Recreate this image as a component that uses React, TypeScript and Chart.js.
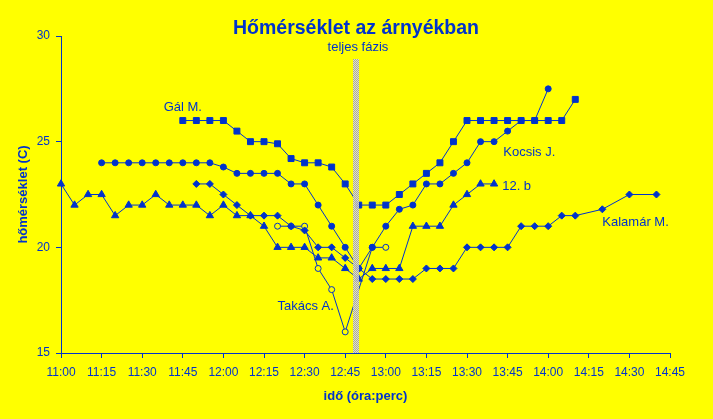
import React, { useEffect, useRef } from 'react';
import { Chart, registerables } from 'chart.js';

Chart.register(...registerables);

// ---- data ----
const TIME_LABELS = [
  '11:00', '11:05', '11:10', '11:15', '11:20', '11:25', '11:30', '11:35', '11:40', '11:45', '11:50', '11:55',
  '12:00', '12:05', '12:10', '12:15', '12:20', '12:25', '12:30', '12:35', '12:40', '12:45', '12:50', '12:55',
  '13:00', '13:05', '13:10', '13:15', '13:20', '13:25', '13:30', '13:35', '13:40', '13:45', '13:50', '13:55',
  '14:00', '14:05', '14:10', '14:15', '14:20', '14:25', '14:30', '14:35', '14:40', '14:45',
];

const X_TICKS = ['11:00', '11:15', '11:30', '11:45', '12:00', '12:15', '12:30', '12:45', '13:00', '13:15', '13:30', '13:45', '14:00', '14:15', '14:30', '14:45'];
const Y_TICKS = [15, 20, 25, 30];

const SERIES_12B = [
  23, 22, 22.5, 22.5, 21.5, 22, 22, 22.5, 22, 22, 22, 21.5,
  22, 21.5, 21.5, 21, 20, 20, 20, 19.5, 19.5, 19, 18.5, 19,
  19, 19, 21, 21, 21, 22, 22.5, 23, 23, null, null, null,
  null, null, null, null, null, null, null, null, null, null,
];

const SERIES_KOCSIS = [
  null, null, null, 24, 24, 24, 24, 24, 24, 24, 24, 24,
  23.8, 23.5, 23.5, 23.5, 23.5, 23, 23, 22, 21, 20, 19, 20,
  21, 21.8, 22, 23, 23, 23.5, 24, 25, 25, 25.5, 26, 26,
  27.5, null, null, null, null, null, null, null, null, null,
];

const SERIES_GAL = [
  null, null, null, null, null, null, null, null, null, 26, 26, 26,
  26, 25.5, 25, 25, 24.9, 24.2, 24, 24, 23.8, 23, 22, 22,
  22, 22.5, 23, 23.5, 24, 25, 26, 26, 26, 26, 26, 26,
  26, 26, 27, null, null, null, null, null, null, null,
];

const SERIES_KALAMAR = [
  null, null, null, null, null, null, null, null, null, null, 23, 23,
  22.5, 22, 21.5, 21.5, 21.5, 21, 20.8, 20, 20, 19.5, 19, 18.5,
  18.5, 18.5, 18.5, 19, 19, 19, 20, 20, 20, 20, 21, 21,
  21, 21.5, 21.5, null, 21.8, null, 22.5, null, 22.5, null,
];

const SERIES_TAKACS = [
  null, null, null, null, null, null, null, null, null, null, null, null,
  null, null, null, null, 21, 21, 21, 19, 18, 16, null, 20,
  20, null, null, null, null, null, null, null, null, null, null, null,
  null, null, null, null, null, null, null, null, null, null,
];

const SERIES_NAMES = ['12. b', 'Kocsis J.', 'Gál M.', 'Kalamár M.', 'Takács A.'];

// series labels written on the chart (time, value, alignment)
const NOTE_TEXTS = ['Gál M.', 'Kocsis J.', '12. b', 'Kalamár M.', 'Takács A.', 'teljes fázis'];
const NOTE_TIMES = ['11:45', '13:53', '13:43', '14:20', '12:20', '12:49.7'];
const NOTE_VALUES = [26.6, 24.5, 22.9, 21.2, 17.2, 29.45];
const NOTE_ALIGN = ['center', 'center', 'left', 'left', 'left', 'center'];

// totality band
const BAND_START = '12:48';
const BAND_END = '12:50';
const BAND_TOP = 28.9;

const TITLE = 'Hőmérséklet az árnyékban';
const X_TITLE = 'idő (óra:perc)';
const Y_TITLE = 'hőmérséklet (C)';

// ---- styling ----
const BLUE = '#0033cc';
const YELLOW = '#ffff00';
const FONT = "'Liberation Sans', Arial, Helvetica, sans-serif";

function toMin(t: string): number {
  const [h, m] = t.split(':').map(Number);
  return (h - 11) * 60 + m;
}

function points(values: (number | null)[]) {
  return TIME_LABELS.map((t, i) => ({ x: toMin(t), y: values[i] })).filter((p) => p.y !== null) as { x: number; y: number }[];
}

function makePattern(ctx: CanvasRenderingContext2D) {
  const c = document.createElement('canvas');
  c.width = 2;
  c.height = 2;
  const g = c.getContext('2d')!;
  g.fillStyle = 'rgba(228,228,218,0.85)';
  g.fillRect(0, 0, 2, 2);
  g.clearRect(0, 0, 1, 1);
  g.clearRect(1, 1, 1, 1);
  g.fillStyle = '#a6a6a6';
  g.fillRect(0, 0, 1, 1);
  g.fillRect(1, 1, 1, 1);
  return ctx.createPattern(c, 'repeat');
}

const decorPlugin = {
  id: 'decor',
  beforeDraw(chart: any) {
    const { ctx, width, height } = chart;
    ctx.save();
    ctx.fillStyle = YELLOW;
    ctx.fillRect(0, 0, width, height);
    ctx.restore();
  },
  afterDatasetsDraw(chart: any) {
    const { ctx, chartArea } = chart;
    const xs = chart.scales.x;
    const ys = chart.scales.y;
    // band
    const x1 = Math.round(xs.getPixelForValue(toMin(BAND_START)));
    const x2 = Math.round(xs.getPixelForValue(toMin(BAND_END)));
    const yTop = Math.round(ys.getPixelForValue(BAND_TOP));
    ctx.save();
    const pat = makePattern(ctx);
    if (pat) ctx.fillStyle = pat;
    ctx.fillRect(x1, yTop, x2 - x1, Math.round(chartArea.bottom) - yTop);
    ctx.restore();

    // notes
    ctx.save();
    ctx.fillStyle = BLUE;
    ctx.font = `13px ${FONT}`;
    ctx.textBaseline = 'middle';
    NOTE_TEXTS.forEach((txt, i) => {
      ctx.textAlign = NOTE_ALIGN[i] as CanvasTextAlign;
      const x = xs.getPixelForValue(toMin(NOTE_TIMES[i]));
      const y = ys.getPixelForValue(NOTE_VALUES[i]);
      ctx.fillText(txt, x, y);
    });
    ctx.restore();
  },
  afterDraw(chart: any) {
    const { ctx, chartArea } = chart;
    ctx.save();
    ctx.fillStyle = BLUE;
    ctx.textAlign = 'center';
    ctx.textBaseline = 'alphabetic';
    ctx.font = `bold 19.5px ${FONT}`;
    ctx.fillText(TITLE, 356, 34);

    ctx.textBaseline = 'middle';
    ctx.font = `bold 13px ${FONT}`;
    ctx.fillText(X_TITLE, (chartArea.left + chartArea.right) / 2, 396);

    ctx.translate(23, (chartArea.top + chartArea.bottom) / 2);
    ctx.rotate(-Math.PI / 2);
    ctx.fillText(Y_TITLE, 0, 0);
    ctx.restore();
  },
};

export default function App() {
  const ref = useRef<HTMLCanvasElement>(null);

  useEffect(() => {
    const canvas = ref.current;
    if (!canvas) return;

    const base = {
      borderColor: BLUE,
      borderWidth: 1,
      pointBorderColor: BLUE,
      pointBackgroundColor: BLUE,
      pointBorderWidth: 1,
      tension: 0,
      fill: false,
      clip: false as any,
    };

    const chart = new Chart(canvas, {
      type: 'line',
      data: {
        datasets: [
          { ...base, label: SERIES_NAMES[0], data: points(SERIES_12B), pointStyle: 'triangle', pointRadius: 4.2 },
          { ...base, label: SERIES_NAMES[1], data: points(SERIES_KOCSIS), pointStyle: 'circle', pointRadius: 3 },
          { ...base, label: SERIES_NAMES[2], data: points(SERIES_GAL), pointStyle: 'rect', pointRadius: 4.2 },
          { ...base, label: SERIES_NAMES[3], data: points(SERIES_KALAMAR), pointStyle: 'rectRot', pointRadius: 3.5 },
          { ...base, label: SERIES_NAMES[4], data: points(SERIES_TAKACS), pointStyle: 'circle', pointRadius: 3, pointBackgroundColor: YELLOW },
        ],
      },
      options: {
        animation: false,
        responsive: false,
        events: [],
        layout: { padding: { top: 36, right: 43, bottom: 0, left: 0 } },
        plugins: {
          legend: { display: false },
          tooltip: { enabled: false },
          title: { display: false },
        },
        scales: {
          x: {
            type: 'linear',
            min: 0,
            max: toMin(X_TICKS[X_TICKS.length - 1]),
            afterFit: (s: any) => { s.height = 66; },
            afterBuildTicks: (s: any) => { s.ticks = X_TICKS.map((t) => ({ value: toMin(t) })); },
            grid: { display: true, drawOnChartArea: false, drawTicks: true, tickLength: 5, color: BLUE, lineWidth: 1 },
            border: { display: true, color: BLUE, width: 1 },
            ticks: {
              color: BLUE,
              font: { family: FONT, size: 12 },
              padding: 7,
              maxRotation: 0,
              autoSkip: false,
              callback: (_v: any, i: number) => X_TICKS[i],
            },
          },
          y: {
            type: 'linear',
            min: Y_TICKS[0],
            max: Y_TICKS[Y_TICKS.length - 1],
            afterFit: (s: any) => { s.width = 61; },
            afterBuildTicks: (s: any) => { s.ticks = Y_TICKS.map((v) => ({ value: v })); },
            grid: { display: true, drawOnChartArea: false, drawTicks: true, tickLength: 5, color: BLUE, lineWidth: 1 },
            border: { display: true, color: BLUE, width: 1 },
            ticks: {
              color: BLUE,
              font: { family: FONT, size: 12 },
              padding: 6,
              callback: (v: any) => String(v),
            },
          },
        },
      },
      plugins: [decorPlugin],
    } as any);

    return () => chart.destroy();
  }, []);

  return (
    <div style={{ position: 'fixed', left: 0, top: 0, width: 713, height: 419, background: YELLOW }}>
      <canvas ref={ref} width={713} height={419} style={{ display: 'block', width: 713, height: 419 }} />
    </div>
  );
}
